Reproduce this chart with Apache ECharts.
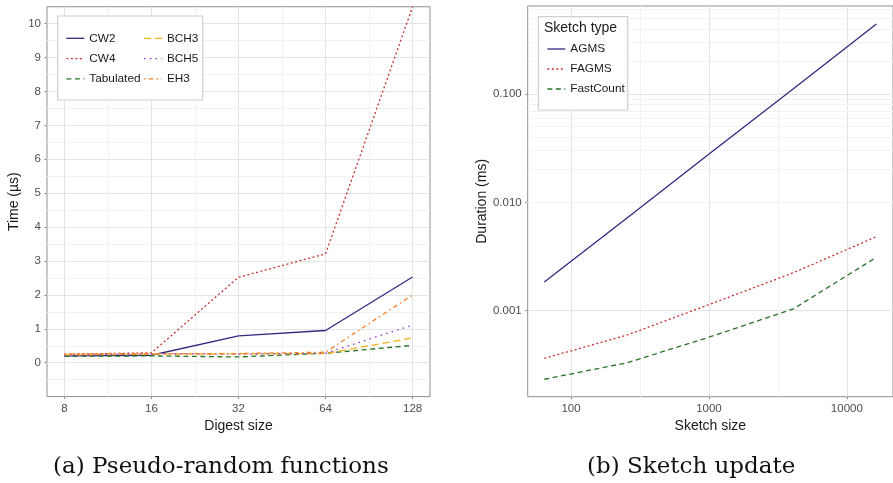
<!DOCTYPE html>
<html>
<head>
<meta charset="utf-8">
<script src="https://cdn.jsdelivr.net/npm/echarts@6/dist/echarts.min.js"></script>
<style>
  html, body { margin: 0; padding: 0; background: #ffffff; }
  #chart { width: 893px; height: 483px; }
</style>
</head>
<body>
<div id="chart"></div>
<script>
// ---- Panel (a): hashing time per digest size ----
const digestSizes = [8, 16, 32, 64, 128];
const timeCW2 = [0.20, 0.22, 0.79, 0.95, 2.53];
const timeCW4 = [0.25, 0.29, 2.52, 3.21, 10.5];
const timeTabulated = [0.19, 0.20, 0.17, 0.28, 0.51];
const timeBCH3 = [0.23, 0.25, 0.26, 0.27, 0.73];
const timeBCH5 = [0.21, 0.27, 0.25, 0.28, 1.11];
const timeEH3 = [0.26, 0.27, 0.27, 0.31, 2.00];
const timeTicks = [0, 1, 2, 3, 4, 5, 6, 7, 8, 9, 10];
const timeMinorBreaks = [-0.5, 0.5, 1.5, 2.5, 3.5, 4.5, 5.5, 6.5, 7.5, 8.5, 9.5];
const digestMinorBreaks = [11.31, 22.63, 45.25, 90.51];

// ---- Panel (b): sketch update duration per sketch size ----
const sketchSizes = [64, 256, 1024, 4096, 16384];
const durAGMS = [0.00184, 0.0072, 0.0285, 0.112, 0.443];
const durFAGMS = [0.000363, 0.000597, 0.00115, 0.00224, 0.00482];
const durFastCount = [0.000233, 0.000331, 0.000575, 0.00104, 0.00311];
const sizeTicks = [100, 1000, 10000];
const durationTicks = [0.001, 0.01, 0.1];
const sizeMinorBreaks = [316.2, 3162.3];
const durationMinorBreaks = [
  0.0002, 0.0003, 0.0004, 0.0005, 0.0006, 0.0007, 0.0008, 0.0009,
  0.002, 0.003, 0.004, 0.005, 0.006, 0.007, 0.008, 0.009,
  0.02, 0.03, 0.04, 0.05, 0.06, 0.07, 0.08, 0.09,
  0.2, 0.3, 0.4, 0.5, 0.6
];

const COL = {
  navy: '#2f2b83',
  red: '#c8302e',
  green: '#267326',
  gold: '#f7b11c',
  purple: '#9a36d0',
  orange: '#f97f26'
};
const BORDER = '#8f8f8f';
const MAJOR = '#e4e4e4';
const MINOR = '#f2f2f2';
const TICK_TEXT = '#4d4d4d';
const TEXT = '#1a1a1a';
const SANS = 'Liberation Sans, Arial, sans-serif';

function pairs(xs, ys) { return xs.map((x, i) => [x, ys[i]]); }
function pick(v, list) {
  for (const t of list) { if (Math.abs(v / t - 1) < 1e-6 || v === t) return t; }
  return null;
}

function lineSeries(name, xs, ys, color, dash, gridIdx) {
  return {
    type: 'line', name: name,
    xAxisIndex: gridIdx, yAxisIndex: gridIdx,
    data: pairs(xs, ys),
    symbol: 'none', silent: true, animation: false, z: 3,
    lineStyle: { color: color, width: 1.3, type: dash, cap: 'butt' },
    itemStyle: { color: color }
  };
}

function minorSeries(gridIdx, xVals, yVals) {
  return {
    type: 'line', name: '', data: [],
    xAxisIndex: gridIdx, yAxisIndex: gridIdx,
    silent: true, animation: false, z: 1,
    markLine: {
      silent: true, animation: false, z: 1,
      symbol: ['none', 'none'],
      label: { show: false },
      lineStyle: { color: MINOR, width: 1, type: 'solid' },
      emphasis: { disabled: true },
      data: xVals.map(v => ({ xAxis: v })).concat(yVals.map(v => ({ yAxis: v })))
    }
  };
}

const axisCommon = {
  axisLine: { show: false, onZero: false },
  axisTick: { show: true, length: 2.5, lineStyle: { color: BORDER, width: 1 } },
  splitLine: { show: true, lineStyle: { color: MAJOR, width: 1 } },
  nameLocation: 'middle',
  nameTextStyle: { color: TEXT, fontSize: 14, fontFamily: SANS }
};

const legendCommon = {
  orient: 'vertical', padding: 0, z: 60,
  itemWidth: 18, itemHeight: 14, selectedMode: false,
  itemStyle: { opacity: 0, borderWidth: 0 },
  lineStyle: { width: 1.3 },
  textStyle: { color: TEXT, fontSize: 11.8, fontFamily: SANS }
};

const option = {
  backgroundColor: '#ffffff',
  animation: false,
  textStyle: { fontFamily: SANS },
  title: [
    { text: '(a) Pseudo-random functions', left: 48, top: 451,
      textStyle: { fontFamily: 'DejaVu Serif', fontWeight: 'normal', fontSize: 23, color: '#111111' } },
    { text: '(b) Sketch update', left: 582, top: 451,
      textStyle: { fontFamily: 'DejaVu Serif', fontWeight: 'normal', fontSize: 23, color: '#111111' } },
    { text: 'Sketch type', left: 544, top: 21, padding: 0, z: 60,
      textStyle: { fontFamily: SANS, fontWeight: 'normal', fontSize: 14, color: TEXT } }
  ],
  grid: [
    { left: 47, top: 6.75, width: 383, height: 389.85, show: true,
      borderColor: BORDER, borderWidth: 1, backgroundColor: '#ffffff', containLabel: false },
    { left: 527.7, top: 6, width: 370.9, height: 390.7, show: true,
      borderColor: BORDER, borderWidth: 1, backgroundColor: '#ffffff', containLabel: false }
  ],
  xAxis: [
    Object.assign({}, axisCommon, {
      gridIndex: 0, type: 'log', logBase: 2, position: 'bottom',
      min: Math.pow(2, 2.8), max: Math.pow(2, 7.2),
      name: 'Digest size', nameGap: 19,
      axisTick: Object.assign({}, axisCommon.axisTick, { customValues: digestSizes }),
      axisLabel: { customValues: digestSizes, margin: 6, color: TICK_TEXT, fontSize: 11.5, fontFamily: SANS,
        formatter: v => { const t = pick(v, digestSizes); return t === null ? '' : String(t); } }
    }),
    Object.assign({}, axisCommon, {
      gridIndex: 1, type: 'log', logBase: 10, position: 'bottom',
      min: 48.5, max: 21613,
      name: 'Sketch size', nameGap: 19,
      axisTick: Object.assign({}, axisCommon.axisTick, { customValues: sizeTicks }),
      axisLabel: { customValues: sizeTicks, margin: 6, color: TICK_TEXT, fontSize: 11.5, fontFamily: SANS,
        formatter: v => { const t = pick(v, sizeTicks); return t === null ? '' : String(t); } }
    })
  ],
  yAxis: [
    Object.assign({}, axisCommon, {
      gridIndex: 0, type: 'value', position: 'left',
      min: -1, max: 10.5, interval: 1,
      name: 'Time (µs)', nameGap: 26, nameRotate: 90,
      axisTick: Object.assign({}, axisCommon.axisTick, { customValues: timeTicks }),
      axisLabel: { customValues: timeTicks, margin: 6, color: TICK_TEXT, fontSize: 11.5, fontFamily: SANS,
        formatter: v => { const t = pick(v, timeTicks); return t === null ? '' : String(t); } }
    }),
    Object.assign({}, axisCommon, {
      gridIndex: 1, type: 'log', logBase: 10, position: 'left',
      min: 0.00016077, max: 0.6491,
      name: 'Duration (ms)', nameGap: 39, nameRotate: 90,
      axisTick: Object.assign({}, axisCommon.axisTick, { customValues: durationTicks }),
      axisLabel: { customValues: durationTicks, margin: 6, color: TICK_TEXT, fontSize: 11.5, fontFamily: SANS,
        formatter: v => { const t = pick(v, durationTicks); return t === null ? '' : t.toFixed(3); } }
    })
  ],
  legend: [
    Object.assign({}, legendCommon, { data: ['CW2', 'CW4', 'Tabulated'], left: 65.7, top: 32.3, itemGap: 8.3 }),
    Object.assign({}, legendCommon, { data: ['BCH3', 'BCH5', 'EH3'], left: 143.3, top: 32.3, itemGap: 8.3 }),
    Object.assign({}, legendCommon, { data: ['AGMS', 'FAGMS', 'FastCount'], left: 546.7, top: 43, itemGap: 8 })
  ],
  graphic: [
    { type: 'rect', z: 50, silent: true,
      shape: { x: 57.7, y: 16, width: 145, height: 84 },
      style: { fill: '#ffffff', stroke: '#cfcfcf', lineWidth: 1.2 } },
    { type: 'rect', z: 50, silent: true,
      shape: { x: 538.3, y: 16.7, width: 89.4, height: 93.3 },
      style: { fill: '#ffffff', stroke: '#cfcfcf', lineWidth: 1.2 } }
  ],
  series: [
    minorSeries(0, digestMinorBreaks, timeMinorBreaks),
    minorSeries(1, sizeMinorBreaks, durationMinorBreaks),
    lineSeries('CW2', digestSizes, timeCW2, COL.navy, 'solid', 0),
    lineSeries('CW4', digestSizes, timeCW4, COL.red, [2, 2.5], 0),
    lineSeries('Tabulated', digestSizes, timeTabulated, COL.green, [5, 3.5], 0),
    lineSeries('BCH3', digestSizes, timeBCH3, COL.gold, [7, 4], 0),
    lineSeries('BCH5', digestSizes, timeBCH5, COL.purple, [1.6, 4.2], 0),
    lineSeries('EH3', digestSizes, timeEH3, COL.orange, [1.6, 3.2, 4.5, 3.2], 0),
    lineSeries('AGMS', sketchSizes, durAGMS, COL.navy, 'solid', 1),
    lineSeries('FAGMS', sketchSizes, durFAGMS, COL.red, [2, 2.5], 1),
    lineSeries('FastCount', sketchSizes, durFastCount, COL.green, [5, 3.5], 1)
  ]
};

const chart = echarts.init(document.getElementById('chart'), null, { renderer: 'canvas' });
chart.setOption(option);
</script>
</body>
</html>
